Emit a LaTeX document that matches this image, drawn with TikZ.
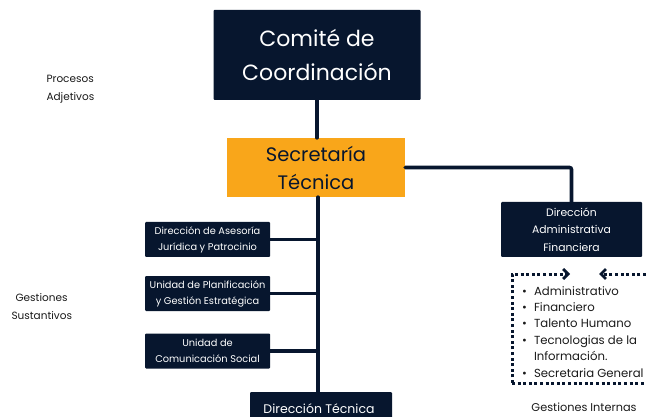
\documentclass[tikz,border=0pt]{standalone}
\usepackage{fontspec}
\setmainfont{Poppins}
\usetikzlibrary{arrows.meta}
\definecolor{navyc}{HTML}{07162E}
\definecolor{orangec}{HTML}{F9A61A}
\definecolor{textc}{HTML}{1A1A1A}

\tikzset{
  darkbox/.style={fill=navyc, text=white, inner sep=0pt, align=center, rounded corners=1pt},
  link/.style={navyc, line width=3.6pt, line cap=round},
  dotline/.style={navyc, line width=3pt, dash pattern=on 3pt off 2.6pt},
  chev/.style={-{Straight Barb[length=5pt, width=10pt, line width=2.8pt]}},
}

\begin{document}
\begin{tikzpicture}[x=1pt, y=-1pt, font=\fontsize{10}{12}\selectfont]
  \useasboundingbox (0,0) rectangle (646,417);

  % top of the chart
  \node[darkbox, minimum width=207pt, minimum height=90pt,
        font=\fontsize{22}{34}\selectfont] (comite) at (317,55)
    {Comité de\\Coordinación};
  \node[fill=orangec, text=navyc, inner sep=0pt, align=center, minimum width=178pt,
        minimum height=59pt, font=\fontsize{19.5}{28}\selectfont] (secre) at (316,167.5)
    {Secretaría\\Técnica};

  % side labels
  \node[text=textc, align=left, anchor=west, font=\fontsize{10.5}{18}\selectfont] (padj) at (43,89)
    {Procesos\\ Adjetivos};
  \node[text=textc, align=left, anchor=west, font=\fontsize{10.5}{18}\selectfont] (gsus) at (8,307)
    {\hspace{4pt}Gestiones\\Sustantivos};

  % staff units on the left
  \foreach \n/\y/\t in {ase/239.5/{Dirección de Asesoría\\Jurídica y Patrocinio},
                        pla/293.5/{Unidad de Planificación\\y Gestión Estratégica},
                        com/351/{Unidad de\\Comunicación Social}} {
    \node[darkbox, minimum width=125pt, minimum height=35pt,
          font=\fontsize{9.8}{16}\selectfont] (\n) at (207.5,\y) {\t};
  }

  % technical direction (cut at the bottom)
  \node[darkbox, minimum width=142pt, minimum height=40pt, anchor=north] (dtec) at (321,392) {};
  \node[text=white, font=\fontsize{12.5}{14}\selectfont] (dtect) at (319,409) {Dirección Técnica};

  % administrative direction
  \node[darkbox, minimum width=141pt, minimum height=55pt,
        font=\fontsize{10.8}{17.5}\selectfont] (dadm) at (571.5,229.5)
    {Dirección\\Administrativa\\Financiera};

  % connectors
  \draw[link] (comite.south) -- (comite.south |- secre.north);
  \draw[link] (secre.south -| 318,0) -- (dtec.north -| 318,0);
  \foreach \n in {ase,pla,com}
    \draw[link] (\n.east) -- (\n.east -| 318,0);
  \draw[link, rounded corners=2pt] (secre.east) -| (dadm.north);

  % internal management bracket
  \coordinate (bl) at (512,274);
  \coordinate (br) at (646,274);
  \coordinate (lb) at (512,383);
  \coordinate (rb) at (646,383);
  \coordinate (la) at (570,274);
  \coordinate (ra) at (599,274);
  \draw[dotline, chev] (lb) -- (bl) -- (la);
  \draw[dotline, chev] (br) -- (ra);
  \draw[dotline] (lb) -- (rb);

  \node[text=textc, anchor=base west, align=left, inner sep=0pt,
        font=\fontsize{11.7}{16.4}\selectfont] (lista) at (522,377)
    {\textbullet\hspace{7pt}Administrativo\\
     \textbullet\hspace{7pt}Financiero\\
     \textbullet\hspace{7pt}Talento Humano\\
     \textbullet\hspace{7pt}Tecnologias de la\\
     \hphantom{\textbullet}\hspace{7pt}Información.\\
     \textbullet\hspace{7pt}Secretaria General};
  \node[text=textc, font=\fontsize{11.3}{12}\selectfont] (gint) at (584,407) {Gestiones Internas};
\end{tikzpicture}
\end{document}
